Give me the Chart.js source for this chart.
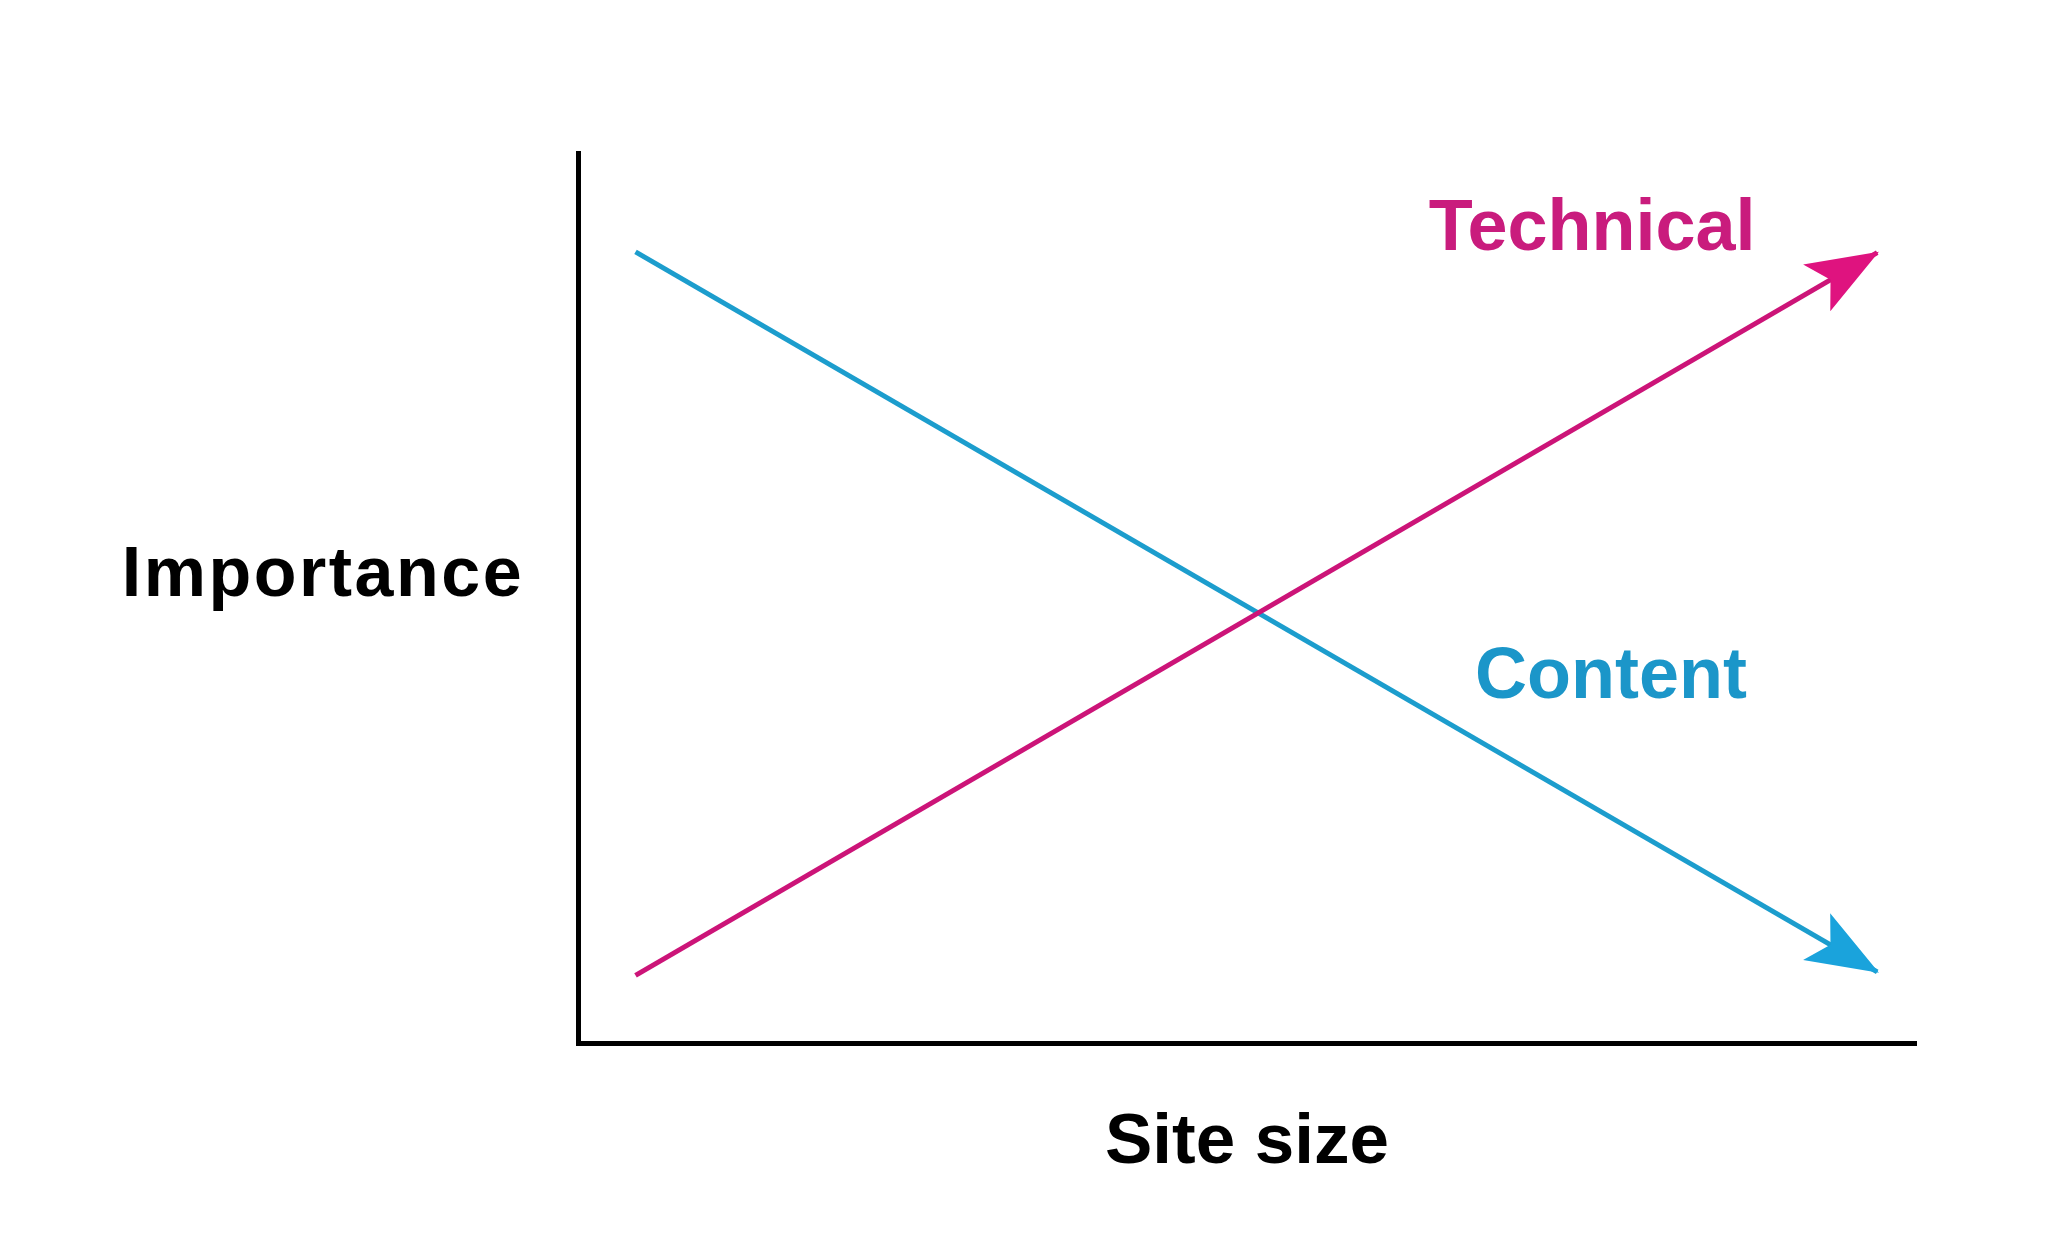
<!DOCTYPE html>
<html>
<head>
<meta charset="utf-8">
<script src="https://cdn.jsdelivr.net/npm/chart.js@4.4.1/dist/chart.umd.min.js"></script>
<style>
  html,body{margin:0;padding:0;background:#fff;}
  #wrap{width:2048px;height:1258px;}
</style>
</head>
<body>
<div id="wrap"><canvas id="chart"></canvas></div>
<script>
// schematic: importance vs site size
const siteSize = [4.3, 97.1];
const technical = [7.6, 88.8];
const content = [88.9, 8.0];
const seriesNames = ['Technical', 'Content'];
const xTitle = 'Site size';
const yTitle = 'Importance';

const pink = '#cc1478', pinkText = '#c91c7d', pinkHead = '#df137f';
const blue = '#1c9dcd', blueText = '#1b96c9', blueHead = '#1aa3dc';

function pts(ys){ return siteSize.map((x,i)=>({x:x, y:ys[i]})); }

// arrowheads on the last point + series labels + axis titles
const decor = {
  id:'decor',
  afterDatasetsDraw(chart){
    const ctx = chart.ctx, xs = chart.scales.x, ys = chart.scales.y, a = chart.chartArea;
    chart.data.datasets.forEach(ds=>{
      const p0 = ds.data[0], p1 = ds.data[ds.data.length-1];
      const x0 = xs.getPixelForValue(p0.x), y0 = ys.getPixelForValue(p0.y);
      const x1 = xs.getPixelForValue(p1.x), y1 = ys.getPixelForValue(p1.y);
      const ang = Math.atan2(y1-y0, x1-x0);
      ctx.save();
      ctx.translate(x1, y1); ctx.rotate(ang);
      ctx.beginPath();
      ctx.moveTo(2,0);
      ctx.lineTo(-70,-27);
      ctx.lineTo(-54,0);
      ctx.lineTo(-70,27);
      ctx.closePath();
      ctx.fillStyle = ds.headColor; ctx.fill();
      ctx.restore();
    });
    ctx.save();
    ctx.textBaseline = 'alphabetic';
    ctx.textAlign = 'center';
    ctx.font = 'bold 72px "Liberation Sans", Arial, sans-serif';
    ctx.fillStyle = pinkText;
    ctx.fillText(seriesNames[0], xs.getPixelForValue(75.8), ys.getPixelForValue(89.1));
    ctx.fillStyle = blueText;
    ctx.fillText(seriesNames[1], xs.getPixelForValue(77.2), ys.getPixelForValue(38.8));
    ctx.fillStyle = '#000';
    ctx.font = 'bold 71px "Liberation Sans", Arial, sans-serif';
    ctx.fillText(xTitle, (a.left+a.right)/2, a.bottom+120);
    ctx.font = 'bold 70px "Liberation Sans", Arial, sans-serif';
    ctx.letterSpacing = '2.5px';
    ctx.fillText(yTitle, a.left-255, a.top+443);
    ctx.restore();
  }
};

new Chart(document.getElementById('chart'), {
  type:'scatter',
  data:{
    datasets:[
      {label:seriesNames[0], data:pts(technical), showLine:true, borderColor:pink, borderWidth:5, pointRadius:0, headColor:pinkHead, borderCapStyle:'butt'},
      {label:seriesNames[1], data:pts(content), showLine:true, borderColor:blue, borderWidth:5, pointRadius:0, headColor:blueHead, borderCapStyle:'butt'}
    ]
  },
  options:{
    responsive:true, maintainAspectRatio:false, animation:false,
    layout:{padding:{left:578, top:153, right:132, bottom:215}},
    plugins:{legend:{display:false}, tooltip:{enabled:false}},
    scales:{
      x:{type:'linear', min:0, max:100, grid:{display:false}, ticks:{display:false},
         border:{display:true, color:'#000', width:5}, afterFit(s){ s.height = 0; }},
      y:{type:'linear', min:0, max:100, grid:{display:false}, ticks:{display:false},
         border:{display:true, color:'#000', width:5}, afterFit(s){ s.width = 0; }}
    }
  },
  plugins:[decor]
});
</script>
</body>
</html>
